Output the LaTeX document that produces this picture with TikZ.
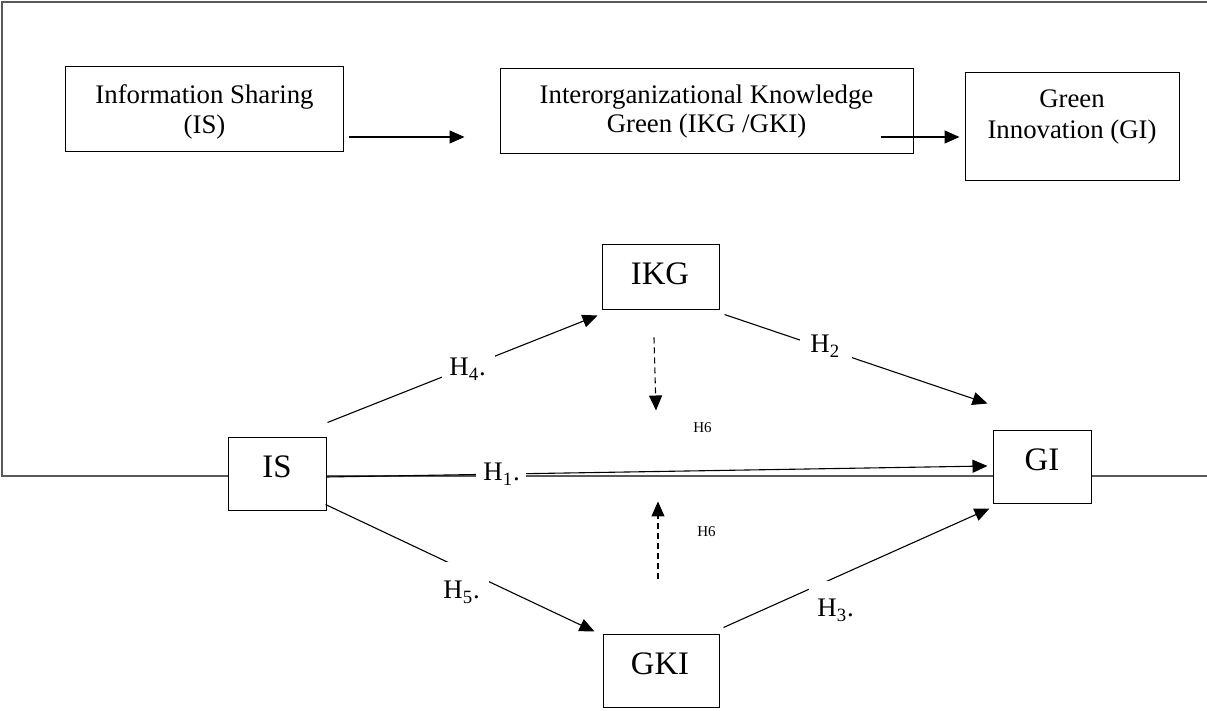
\documentclass[tikz,border=0pt]{standalone}
\usepackage{fontspec}
\setmainfont{Liberation Serif}
\usetikzlibrary{arrows.meta,calc}
\begin{document}
\begin{tikzpicture}[x=0.5pt,y=-0.5pt,
  box/.style={draw=black, line width=0.5pt, fill=white, inner sep=0pt},
  txt/.style={inner sep=0pt, anchor=base, font=\fontsize{13.4}{15}\selectfont},
  big/.style={inner sep=0pt, anchor=base, font=\fontsize{16.4}{18}\selectfont},
  hl/.style={fill=white, inner sep=0pt, anchor=base west, font=\fontsize{13.4}{15}\selectfont},
  small/.style={inner sep=0pt, anchor=base west, font=\fontsize{7.5}{9}\selectfont},
  arr/.style={line width=0.55pt, -{Triangle[length=7.5pt,width=6.5pt]}},
  dsh/.style={arr, dash pattern=on 3pt off 2pt},
  frame/.style={line width=0.7pt, draw=black!65}]
\useasboundingbox (0,0) rectangle (1207,711);
% outer frame
\coordinate (f1) at (1207,2);
\coordinate (f2) at (2,2);
\coordinate (f3) at (2,476);
\coordinate (f4) at (1207,476);
\draw[frame] (f1) -- (f2) -- (f3) -- (f4);
% top row boxes
\node[box, minimum width=139pt, minimum height=42.5pt] (ISt) at (204,109.5) {};
\node[box, minimum width=206.5pt, minimum height=42.5pt] (IKGt) at (706.5,111.5) {};
\node[box, minimum width=107pt, minimum height=54pt] (GIt) at (1072,127) {};
\node[txt] (ISt1) at (204.5,104) {Information Sharing};
\node[txt] (ISt2) at (204.5,134) {(IS)};
\node[txt] (IKGt1) at (706.5,104) {Interorganizational Knowledge};
\node[txt] (IKGt2) at (706.5,133) {Green (IKG /GKI)};
\node[txt] (GIt1) at (1072,108) {Green};
\node[txt] (GIt2) at (1072,139) {Innovation (GI)};
% lower boxes
\node[box, minimum width=49pt, minimum height=36.5pt] (IS) at (277,474.5) {};
\node[box, minimum width=49pt, minimum height=36.5pt] (GI) at (1042,467.5) {};
\node[box, minimum width=58.5pt, minimum height=32.5pt] (IKG) at (660.5,277.5) {};
\node[box, minimum width=58pt, minimum height=36.5pt] (GKI) at (661,671.5) {};
\node[big] (ISl) at (277,478) {IS};
\node[big] (GIl) at (1042,471) {GI};
\node[big] (IKGl) at (660,285) {IKG};
\node[big] (GKIl) at (660,675) {GKI};
% top arrows
\draw[arr] ([shift={(5,27.5)}]ISt.east) -- ([shift={(-35,25.5)}]IKGt.west);
\draw[arr] ([shift={(-33,25.5)}]IKGt.east) -- ([shift={(-5,10)}]GIt.west);
% model arrows
\draw[arr] ([shift={(1,-15)}]IS.north east) -- ([shift={(-4,5)}]IKG.south west);
\draw[arr] ([shift={(5,4)}]IKG.south east) -- ([shift={(-5,-27)}]GI.north west);
\draw[arr] ([shift={(0,2.5)}]IS.east) -- ([shift={(-5,-1.5)}]GI.west);
\draw[arr] ([shift={(-1,-7)}]IS.south east) -- ([shift={(-8,-3)}]GKI.north west);
\draw[arr] ([shift={(4,-7)}]GKI.north east) -- ([shift={(-3,4)}]GI.south west);
\draw[dsh] ([shift={(-6.5,27)}]IKG.south) -- ([shift={(-4.5,100)}]IKG.south);
\draw[dsh] ([shift={(-3,-55)}]GKI.north) -- ([shift={(-3,-133)}]GKI.north);
% labels
\node[hl, text height=10.5pt, text depth=2.5pt] (h4) at (442,376) {\hspace*{3.5pt}H\textsubscript{4}.\hspace*{4.5pt}};
\node[hl, text height=7.5pt, text depth=4pt] (h2) at (800,353) {\hspace*{5pt}H\textsubscript{2}\hspace*{6pt}};
\node[hl, text height=9.5pt, text depth=2pt] (h1) at (476,481) {\hspace*{3.5pt}H\textsubscript{1}.\hspace*{3pt}};
\node[hl, text height=18.5pt, text depth=3pt] (h5) at (443,599) {H\textsubscript{5}.\hspace*{4.5pt}};
\node[hl, text height=18pt, text depth=3pt] (h3) at (809,617) {\hspace*{4pt}H\textsubscript{3}.};
\node[small] (h6a) at (693,433) {H6};
\node[small] (h6b) at (697,537) {H6};
\end{tikzpicture}
\end{document}
